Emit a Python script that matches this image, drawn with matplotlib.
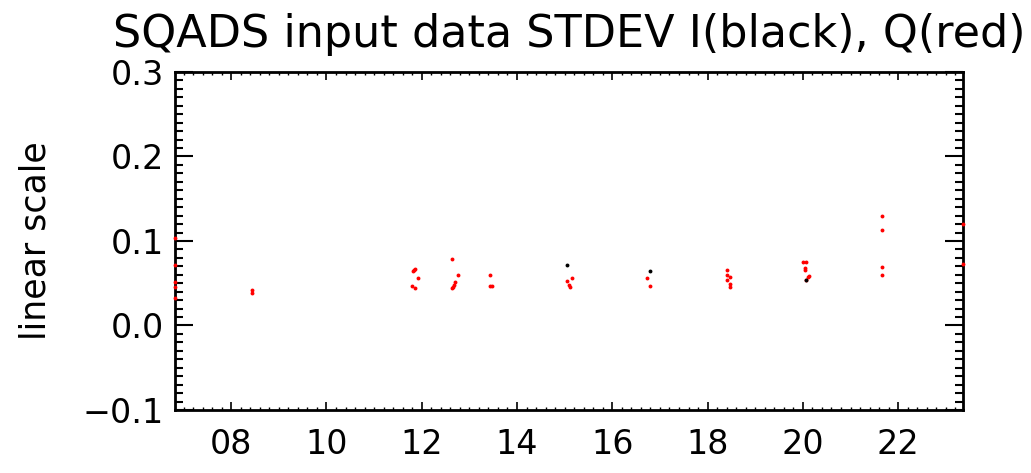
import matplotlib
matplotlib.use("Agg")
import matplotlib.pyplot as plt
from matplotlib.ticker import MultipleLocator, FuncFormatter

# Q (red) standard deviation points, hour of day vs value
q_hours = [6.82, 6.82, 6.82, 6.82, 6.82,
           8.44, 8.44,
           11.82, 11.84, 11.86, 11.93, 11.80, 11.86,
           12.64, 12.76, 12.70, 12.66, 12.64, 12.68,
           13.44, 13.44, 13.48,
           15.05, 15.16, 15.09, 15.12,
           16.73, 16.80,
           18.41, 18.41, 18.47, 18.41, 18.47, 18.47,
           20.01, 20.07, 20.05, 20.05, 20.13, 20.11, 20.07,
           21.67, 21.67, 21.67, 21.67,
           23.36, 23.36]
q_std = [0.104, 0.072, 0.051, 0.045, 0.032,
         0.042, 0.038,
         0.064, 0.066, 0.067, 0.056, 0.047, 0.044,
         0.079, 0.060, 0.051, 0.045, 0.044, 0.048,
         0.060, 0.047, 0.047,
         0.053, 0.056, 0.048, 0.045,
         0.056, 0.047,
         0.066, 0.060, 0.057, 0.054, 0.049, 0.046,
         0.075, 0.075, 0.068, 0.066, 0.059, 0.057, 0.054,
         0.129, 0.113, 0.069, 0.060,
         0.120, 0.073]

# I (black) standard deviation points
i_hours = [15.05, 16.80, 20.07]
i_std = [0.071, 0.065, 0.054]

plt.rcParams['font.family'] = ['DejaVu Sans']

fig = plt.figure(figsize=(10.31, 4.73), dpi=100)
ax = fig.add_axes([0.1697, 0.1332, 0.7643, 0.7146])

# points on the edge sit over the frame, as in the original
ax.plot(q_hours, q_std, 'o', color='red', markersize=2.8, markeredgewidth=0, clip_on=False, zorder=3)
ax.plot(i_hours, i_std, 'o', color='black', markersize=2.8, markeredgewidth=0, zorder=3)

ax.set_xlim(6.82, 23.36)
ax.set_ylim(-0.1, 0.3)

ax.xaxis.set_major_locator(MultipleLocator(2))
ax.xaxis.set_minor_locator(MultipleLocator(0.2))
ax.yaxis.set_major_locator(MultipleLocator(0.1))
ax.yaxis.set_minor_locator(MultipleLocator(0.01))
ax.xaxis.set_major_formatter(FuncFormatter(lambda v, p: "%02d" % round(v)))
ax.yaxis.set_major_formatter(FuncFormatter(lambda v, p: ("%.1f" % v).replace("-", "\u2212")))

ax.tick_params(axis='both', which='both', direction='in', top=True, right=True, labelsize=24, colors='black')
ax.tick_params(axis='x', which='major', length=6, width=1.2, pad=13)
ax.tick_params(axis='x', which='minor', length=2.5, width=1.0)
ax.tick_params(axis='y', which='major', length=13, width=1.5, pad=8)
ax.tick_params(axis='y', which='minor', length=6, width=1.5)

for s in ax.spines.values():
    s.set_linewidth(2)

ax.set_ylabel("linear scale", fontsize=25, labelpad=22)
ax.set_title("SQADS input data STDEV I(black), Q(red)", fontsize=32, pad=18)

fig.savefig("out.png", dpi=100)
